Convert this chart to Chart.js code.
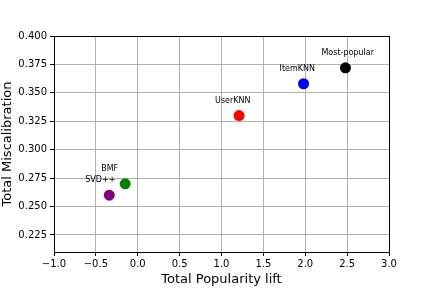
<!DOCTYPE html>
<html>
<head>
<meta charset="utf-8">
<script src="https://cdn.jsdelivr.net/npm/chart.js@4.4.1/dist/chart.umd.min.js"></script>
<style>
  body { margin: 0; background: #fff; }
  canvas { display: block; }
</style>
</head>
<body>
<canvas id="chart" width="432" height="288"></canvas>
<script>
// data
const methods = ['Most-popular', 'ItemKNN', 'UserKNN', 'BMF', 'SVD++'];
const popularityLift = [2.48, 1.98, 1.21, -0.15, -0.34];
const miscalibration = [0.372, 0.358, 0.330, 0.270, 0.260];
const pointColors = ['#000000', '#0000ff', '#ff0000', '#008000', '#800080'];

const xTicks = [-1.0, -0.5, 0.0, 0.5, 1.0, 1.5, 2.0, 2.5, 3.0];
const yTicks = [0.225, 0.250, 0.275, 0.300, 0.325, 0.350, 0.375, 0.400];

const FONT = 'DejaVu Sans';

const fmt = (v, d) => (v < 0 ? '\u2212' + Math.abs(v).toFixed(d) : v.toFixed(d));

// method names next to each point
const pointLabels = {
    id: 'pointLabels',
    afterDatasetsDraw(chart) {
        const ctx = chart.ctx;
        const meta = chart.getDatasetMeta(0);
        ctx.save();
        ctx.font = '8px "' + FONT + '"';
        ctx.fillStyle = '#000';
        ctx.textAlign = 'left';
        ctx.textBaseline = 'middle';
        meta.data.forEach((pt, i) => {
            ctx.fillText(methods[i], pt.x - 24, pt.y - 15);
        });
        ctx.restore();
    }
};

// matplotlib style box round the axes
const frame = {
    id: 'frame',
    afterDraw(chart) {
        const { left, top, right, bottom } = chart.chartArea;
        const ctx = chart.ctx;
        ctx.save();
        ctx.strokeStyle = '#000';
        ctx.lineWidth = 1;
        ctx.strokeRect(Math.floor(left) + 0.5, Math.floor(top) + 0.5,
            Math.floor(right) - Math.floor(left), Math.floor(bottom) - Math.floor(top));
        ctx.restore();
    }
};

new Chart(document.getElementById('chart'), {
    type: 'scatter',
    data: {
        datasets: [{
            data: popularityLift.map((x, i) => ({ x: x, y: miscalibration[i] })),
            backgroundColor: pointColors,
            borderWidth: 0,
            pointRadius: 5.5,
            pointHoverRadius: 5.5
        }]
    },
    options: {
        responsive: false,
        devicePixelRatio: 1,
        animation: false,
        layout: { padding: { left: 0, top: 36, right: 43, bottom: 0 } },
        plugins: {
            legend: { display: false },
            tooltip: { enabled: false }
        },
        scales: {
            x: {
                type: 'linear',
                min: -1,
                max: 3,
                afterBuildTicks: (s) => { s.ticks = xTicks.map(v => ({ value: v })); },
                afterFit: (s) => { s.height = 36; },
                grid: { color: '#b0b0b0', tickColor: '#000', tickLength: 4 },
                border: { display: true, color: '#000' },
                ticks: {
                    color: '#000',
                    padding: 2,
                    font: { family: FONT, size: 10 },
                    callback: (v) => fmt(v, 1)
                },
                title: {
                    display: true,
                    text: 'Total Popularity lift',
                    color: '#000',
                    font: { family: FONT, size: 13 },
                    padding: { top: 0, bottom: 1 }
                }
            },
            y: {
                type: 'linear',
                min: 0.21,
                max: 0.40,
                afterBuildTicks: (s) => { s.ticks = yTicks.map(v => ({ value: v })); },
                afterFit: (s) => { s.width = 54; },
                grid: { color: '#b0b0b0', tickColor: '#000', tickLength: 4 },
                border: { display: true, color: '#000' },
                ticks: {
                    color: '#000',
                    padding: 3,
                    font: { family: FONT, size: 10 },
                    callback: (v) => fmt(v, 3)
                },
                title: {
                    display: true,
                    text: 'Total Miscalibration',
                    color: '#000',
                    font: { family: FONT, size: 13 },
                    padding: { top: 0, bottom: 0 }
                }
            }
        }
    },
    plugins: [pointLabels, frame]
});
</script>
</body>
</html>
